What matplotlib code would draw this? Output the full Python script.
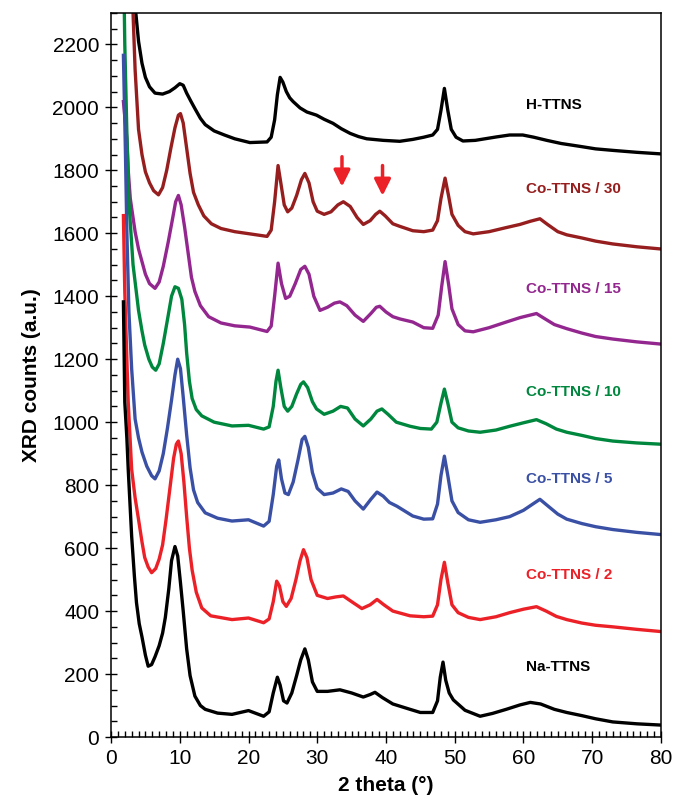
import matplotlib
matplotlib.use("Agg")
import matplotlib.pyplot as plt
from matplotlib.ticker import MultipleLocator

plt.rcParams['font.family'] = ['Liberation Sans', 'DejaVu Sans']

# ---- data: 2 theta (deg) and XRD counts ----
tt_h = [1.8, 3.0, 3.6, 4.0, 4.5, 5.0, 5.6, 6.4, 7.5, 8.5, 9.3, 10.0, 10.5, 11.0, 11.6, 12.2,
        13.0, 13.7, 15.0, 16.5, 18.0, 20.2, 22.7, 23.3, 23.8, 24.2, 24.6, 25.0, 25.5, 26.0,
        26.5, 27.5, 28.5, 29.9, 31.0, 32.3, 33.5, 34.8, 36.0, 37.2, 39.6, 42.0, 43.9, 45.5,
        46.8, 47.5, 48.0, 48.5, 49.0, 49.5, 50.2, 51.2, 53.0, 56.1, 58.0, 59.9, 61.5, 63.4,
        65.5, 68.2, 70.5, 73.1, 76.5, 80.0]
cnt_h = [3400, 2600, 2300, 2210, 2140, 2095, 2065, 2045, 2042, 2050, 2062, 2075, 2070, 2045, 2020, 1996,
         1965, 1945, 1925, 1912, 1900, 1888, 1890, 1905, 1960, 2040, 2095, 2080, 2050, 2030,
         2018, 1998, 1985, 1975, 1962, 1949, 1932, 1917, 1907, 1900, 1895, 1892, 1898, 1905,
         1912, 1930, 1990, 2060, 1990, 1930, 1905, 1893, 1895, 1906, 1912, 1912, 1905, 1895,
         1885, 1876, 1868, 1863, 1857, 1852]

tt_30 = [1.8, 2.5, 3.2, 3.5, 4.0, 4.5, 5.0, 5.6, 6.2, 6.9, 7.5, 8.1, 8.7, 9.3, 9.8, 10.1,
         10.5, 11.0, 11.5, 12.0, 12.7, 13.5, 14.6, 16.0, 18.0, 20.2, 22.7, 23.3, 23.8, 24.3,
         24.7, 25.2, 25.7, 26.3, 27.0, 27.7, 28.2, 28.8, 29.4, 30.0, 31.0, 32.0, 33.0, 33.8,
         34.8, 35.8, 36.7, 37.7, 38.5, 39.1, 39.9, 41.0, 42.0, 43.9, 45.5, 46.8, 47.5, 48.0,
         48.6, 49.1, 49.6, 50.5, 51.5, 52.7, 55.0, 57.5, 59.5, 61.0, 62.4, 63.5, 65.0, 66.3,
         68.5, 70.5, 73.0, 76.5, 80.0]
cnt_30 = [3000, 2600, 2300, 2120, 1930, 1850, 1795, 1760, 1735, 1722, 1745, 1800, 1870, 1935, 1975, 1980,
          1950, 1870, 1790, 1730, 1690, 1655, 1630, 1615, 1605, 1598, 1590, 1610, 1700, 1815,
          1760, 1690, 1668, 1680, 1720, 1770, 1790, 1760, 1700, 1670, 1660, 1668, 1690, 1700,
          1685, 1650, 1628, 1640, 1660, 1670, 1655, 1630, 1622, 1608, 1605, 1610, 1640, 1710,
          1775, 1720, 1660, 1625, 1605, 1598, 1605, 1618, 1628, 1638, 1646, 1628, 1605, 1595,
          1585, 1575, 1566, 1557, 1550]

tt_15 = [1.8, 2.3, 2.5, 2.8, 3.5, 4.0, 4.5, 5.0, 5.6, 6.4, 7.0, 7.6, 8.3, 8.9, 9.4, 9.8,
         10.2, 10.7, 11.2, 11.7, 12.2, 13.0, 14.2, 16.0, 18.0, 20.2, 22.7, 23.3, 23.8, 24.3,
         24.8, 25.4, 26.0, 26.8, 27.6, 28.2, 28.8, 29.5, 30.4, 31.5, 32.5, 33.3, 34.3, 35.5,
         36.7, 37.8, 38.6, 39.1, 40.0, 41.0, 42.0, 43.9, 45.5, 46.8, 47.6, 48.1, 48.6, 49.1,
         49.6, 50.5, 51.5, 52.7, 55.0, 57.5, 59.5, 61.9, 63.0, 64.5, 66.3, 68.5, 70.5, 73.0,
         76.5, 80.0]
cnt_15 = [2018, 1900, 1800, 1710, 1605, 1550, 1510, 1470, 1440, 1425, 1445, 1495, 1570, 1640, 1700, 1720,
          1690, 1620, 1540, 1460, 1415, 1370, 1335, 1315, 1306, 1302, 1288, 1305, 1400, 1505,
          1440, 1393, 1400, 1440, 1485, 1495, 1470, 1400, 1355, 1365, 1378, 1382, 1370, 1340,
          1320, 1345, 1365, 1368, 1350, 1335, 1328, 1318, 1300, 1298, 1340, 1430, 1510, 1440,
          1360, 1310, 1290, 1287, 1300, 1318, 1332, 1345, 1330, 1310, 1297, 1283, 1272, 1264,
          1255, 1248]

tt_10 = [1.8, 2.0, 2.3, 2.6, 3.2, 4.0, 4.5, 4.9, 5.5, 6.0, 6.5, 7.0, 7.6, 8.3, 8.8, 9.3,
         9.8, 10.3, 10.7, 11.0, 11.4, 11.8, 12.4, 13.2, 15.0, 17.6, 20.0, 22.2, 23.0, 23.6,
         24.0, 24.3, 24.7, 25.2, 25.7, 26.3, 27.0, 27.6, 28.0, 28.6, 29.3, 29.9, 31.0, 32.3,
         33.4, 34.4, 35.5, 36.7, 37.8, 38.7, 39.4, 40.3, 41.5, 43.5, 45.0, 46.6, 47.4, 48.0,
         48.5, 49.0, 49.6, 50.5, 52.0, 53.7, 56.0, 58.0, 60.0, 61.9, 63.3, 64.8, 66.3, 68.5,
         70.5, 73.0, 76.5, 80.0]
cnt_10 = [2500, 2200, 1923, 1700, 1500, 1355, 1290, 1245, 1200, 1175, 1165, 1185, 1250, 1337, 1400, 1430,
          1425, 1390, 1310, 1220, 1130, 1075, 1040, 1020, 1000, 988, 990, 978, 985, 1050,
          1130, 1165, 1110, 1050, 1035, 1050, 1090, 1120, 1128, 1110, 1065, 1042, 1025, 1035,
          1050, 1045, 1010, 988, 1010, 1035, 1042, 1025, 1000, 987, 980, 978, 1000, 1060,
          1105, 1060, 1000, 982, 972, 968, 975, 987, 998, 1008, 995, 978, 968, 958,
          948, 940, 934, 930]

tt_5 = [1.8, 2.1, 2.3, 2.6, 3.0, 3.5, 4.0, 4.5, 5.2, 5.9, 6.4, 7.0, 7.6, 8.2, 8.8, 9.3,
        9.7, 10.1, 10.5, 11.0, 11.5, 12.0, 12.6, 13.7, 15.5, 17.6, 20.0, 22.2, 23.0, 23.6,
        24.1, 24.4, 24.8, 25.3, 25.8, 26.5, 27.2, 27.8, 28.2, 28.7, 29.3, 30.0, 31.0, 32.3,
        33.5, 34.5, 35.5, 36.7, 37.8, 38.7, 39.6, 40.5, 41.6, 43.9, 45.5, 46.8, 47.5, 48.0,
        48.5, 49.0, 49.6, 50.5, 52.0, 53.7, 56.0, 58.0, 60.0, 61.5, 62.4, 63.5, 65.0, 66.3,
        68.5, 70.5, 73.0, 76.5, 80.0]
cnt_5 = [2165, 1850, 1605, 1350, 1169, 1010, 950, 905, 860, 830, 820, 845, 900, 980, 1070, 1150,
         1200, 1170, 1080, 960, 855, 785, 745, 712, 695, 686, 690, 670, 685, 770,
         860, 880, 820, 775, 770, 810, 880, 945, 955, 920, 840, 790, 770, 775,
         788, 780, 750, 724, 755, 778, 765, 745, 733, 702, 692, 693, 740, 830,
         892, 830, 750, 713, 690, 682, 690, 700, 720, 742, 755, 735, 708, 692,
         678, 668, 659, 650, 643]

tt_2 = [1.8, 2.0, 2.3, 2.5, 3.0, 3.5, 4.0, 4.5, 4.9, 5.4, 5.9, 6.5, 7.0, 7.5, 8.0, 8.6,
        9.1, 9.5, 9.8, 10.2, 10.6, 11.0, 11.4, 11.8, 12.4, 13.2, 14.5, 17.6, 20.0, 22.2,
        23.0, 23.6, 24.1, 24.5, 25.0, 25.5, 26.2, 26.9, 27.5, 28.0, 28.5, 29.1, 30.0, 31.5,
        32.7, 33.8, 35.0, 36.5, 37.7, 38.7, 39.7, 41.0, 43.5, 45.5, 46.8, 47.5, 48.0, 48.5,
        49.0, 49.6, 50.5, 52.0, 53.7, 56.0, 58.0, 60.0, 61.9, 63.3, 64.8, 66.3, 68.5, 70.5,
        73.0, 76.5, 80.0]
cnt_2 = [1656, 1414, 1200, 1063, 850, 760, 691, 620, 570, 540, 522, 535, 565, 610, 690, 796,
         885, 930, 940, 900, 810, 700, 600, 530, 460, 410, 385, 373, 378, 363,
         375, 430, 495, 480, 430, 415, 440, 500, 560, 595, 570, 500, 450, 440,
         445, 448, 430, 408, 420, 437, 420, 400, 385, 382, 384, 420, 500, 555,
         490, 420, 395, 380, 373, 382, 395, 406, 414, 400, 383, 373, 362, 355,
         350, 342, 335]

tt_na = [1.8, 2.0, 2.3, 2.5, 3.0, 3.4, 3.7, 4.1, 4.5, 5.0, 5.4, 5.9, 6.4, 7.0, 7.5, 7.9,
         8.4, 8.8, 9.3, 9.7, 10.1, 10.5, 11.0, 11.5, 12.2, 13.0, 13.7, 15.5, 17.6, 20.0,
         22.2, 23.0, 23.6, 24.2, 24.6, 25.1, 25.6, 26.3, 27.0, 27.6, 28.2, 28.7, 29.3, 30.0,
         31.5, 33.3, 35.0, 36.7, 37.7, 38.4, 39.5, 41.0, 43.5, 45.0, 46.8, 47.5, 47.9, 48.3,
         48.7, 49.2, 49.8, 51.5, 53.7, 55.5, 57.5, 59.5, 61.0, 62.5, 64.5, 66.3, 68.5, 70.5,
         73.0, 76.5, 80.0]
cnt_na = [1382, 1063, 950, 850, 637, 510, 427, 360, 318, 260, 225, 230, 255, 290, 330, 380,
          470, 560, 605, 575, 490, 400, 280, 195, 130, 100, 88, 76, 72, 84,
          66, 80, 140, 190, 165, 115, 108, 140, 195, 245, 280, 245, 175, 145,
          145, 150, 140, 127, 135, 142, 125, 105, 88, 78, 78, 115, 190, 238,
          180, 140, 118, 85, 66, 75, 88, 102, 110, 105, 88, 78, 68, 58,
          48, 42, 38]

series_names = ['H-TTNS', 'Co-TTNS / 30', 'Co-TTNS / 15', 'Co-TTNS / 10',
                'Co-TTNS / 5', 'Co-TTNS / 2', 'Na-TTNS']
label_y = [2006, 1742, 1423, 1095, 821, 516, 223]
arrow_x = [33.6, 39.5]
arrow_tail = [1843, 1815]
arrow_head = [1748, 1719]

colors = ['#000000', '#961E1E', '#93278F', '#00873E', '#3A50A5', '#EC2027', '#000000']
data = [(tt_h, cnt_h), (tt_30, cnt_30), (tt_15, cnt_15), (tt_10, cnt_10),
        (tt_5, cnt_5), (tt_2, cnt_2), (tt_na, cnt_na)]

fig = plt.figure(figsize=(6.73, 8.02), dpi=100)
ax = fig.add_axes([0.165, 0.081, 0.817, 0.903])

for (x, y), c in zip(data, colors):
    ax.plot(x, y, color=c, lw=2.4, solid_joinstyle='round')

for name, ly, c in zip(series_names, label_y, colors):
    ax.text(60.4, ly, name, color=c, fontsize=11, fontweight='bold', va='center', ha='left')

for ax_x, t, h in zip(arrow_x, arrow_tail, arrow_head):
    ax.annotate('', xy=(ax_x, h), xytext=(ax_x, t),
                arrowprops=dict(arrowstyle='-|>,head_length=0.7,head_width=0.35',
                                color='#EC2027', lw=2.5, shrinkA=0, shrinkB=0,
                                mutation_scale=14))

ax.set_xlim(0, 80)
ax.set_ylim(0, 2300)
ax.xaxis.set_major_locator(MultipleLocator(10))
ax.xaxis.set_minor_locator(MultipleLocator(1))
ax.yaxis.set_major_locator(MultipleLocator(200))
ax.yaxis.set_minor_locator(MultipleLocator(50))
ax.tick_params(which='major', direction='inout', length=9, width=1, labelsize=15, pad=4)
ax.tick_params(which='minor', direction='in', length=4, width=1)
for s in ax.spines.values():
    s.set_linewidth(1.1)

ax.set_xlabel('2 theta (°)', fontsize=15, fontweight='bold', labelpad=6)
ax.set_ylabel('XRD counts (a.u.)', fontsize=15, fontweight='bold', labelpad=8)

fig.savefig('out.png', dpi=100)
